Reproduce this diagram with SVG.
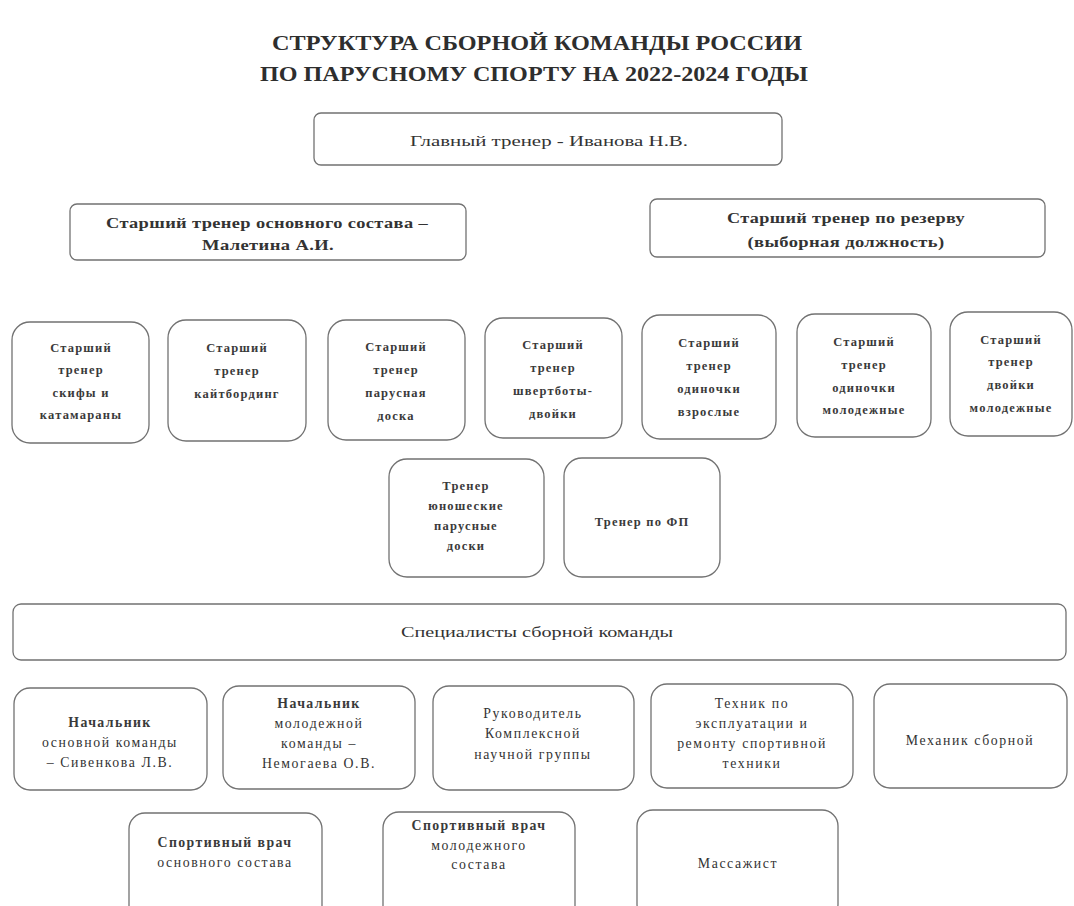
<svg xmlns="http://www.w3.org/2000/svg" width="1074" height="906" viewBox="0 0 1074 906">
<style>
.bg{fill:#ffffff}
.box{fill:#ffffff;stroke:#727272;stroke-width:1.3}
.title{font-family:"Liberation Serif",serif;font-weight:bold;font-size:21px;fill:#2e2e2e;text-anchor:middle}
.t{font-family:"Liberation Serif",serif;font-size:15px;fill:#333;text-anchor:middle}
.tb{font-family:"Liberation Serif",serif;font-size:15px;font-weight:bold;fill:#333;text-anchor:middle;letter-spacing:0.3px}
.s{font-family:"Liberation Serif",serif;font-size:12.5px;font-weight:bold;fill:#3a3a3a;text-anchor:middle;letter-spacing:1.2px}
.r{font-family:"Liberation Serif",serif;font-size:13.8px;fill:#333;text-anchor:middle;letter-spacing:1.6px}
.rb{font-family:"Liberation Serif",serif;font-size:13.8px;font-weight:bold;fill:#3a3a3a;text-anchor:middle;letter-spacing:1.4px}
</style>
<rect class="bg" x="0" y="0" width="1074" height="906"/>
<g id="title">
<text class="title" x="537" y="50" textLength="530" lengthAdjust="spacingAndGlyphs">СТРУКТУРА СБОРНОЙ КОМАНДЫ РОССИИ</text>
<text class="title" x="534" y="81" textLength="548" lengthAdjust="spacingAndGlyphs">ПО ПАРУСНОМУ СПОРТУ НА 2022-2024 ГОДЫ</text>
</g>
<g id="connectors"></g>
<g id="head">
<rect class="box" x="314" y="113" width="468" height="52" rx="7"/>
<text class="t" x="549" y="146" textLength="278" lengthAdjust="spacingAndGlyphs">Главный тренер - Иванова Н.В.</text>
</g>
<g id="senior-main">
<rect class="box" x="70" y="204" width="396" height="56" rx="7"/>
<text class="tb" x="267" y="228" textLength="322" lengthAdjust="spacingAndGlyphs">Старший тренер основного состава –</text>
<text class="tb" x="268" y="250" textLength="132" lengthAdjust="spacingAndGlyphs">Малетина А.И.</text>
</g>
<g id="senior-reserve">
<rect class="box" x="650" y="199" width="395" height="58" rx="7"/>
<text class="tb" x="846" y="223" textLength="238" lengthAdjust="spacingAndGlyphs">Старший тренер по резерву</text>
<text class="tb" x="846" y="247" textLength="197" lengthAdjust="spacingAndGlyphs">(выборная должность)</text>
</g>
<g id="c1">
<rect class="box" x="12" y="322" width="137" height="121" rx="18"/>
<text class="s" x="81" y="352">Старший</text>
<text class="s" x="81" y="374">тренер</text>
<text class="s" x="81" y="397">скифы и</text>
<text class="s" x="81" y="419">катамараны</text>
</g>
<g id="c2">
<rect class="box" x="168" y="320" width="138" height="121" rx="18"/>
<text class="s" x="237" y="352">Старший</text>
<text class="s" x="237" y="375">тренер</text>
<text class="s" x="237" y="398">кайтбординг</text>
</g>
<g id="c3">
<rect class="box" x="328" y="320" width="137" height="120" rx="18"/>
<text class="s" x="396" y="351">Старший</text>
<text class="s" x="396" y="374">тренер</text>
<text class="s" x="396" y="397">парусная</text>
<text class="s" x="396" y="420">доска</text>
</g>
<g id="c4">
<rect class="box" x="485" y="318" width="137" height="120" rx="18"/>
<text class="s" x="553" y="349">Старший</text>
<text class="s" x="553" y="372">тренер</text>
<text class="s" x="553" y="395">швертботы-</text>
<text class="s" x="553" y="418">двойки</text>
</g>
<g id="c5">
<rect class="box" x="642" y="315" width="134" height="124" rx="18"/>
<text class="s" x="709" y="347">Старший</text>
<text class="s" x="709" y="370">тренер</text>
<text class="s" x="709" y="393">одиночки</text>
<text class="s" x="709" y="416">взрослые</text>
</g>
<g id="c6">
<rect class="box" x="797" y="314" width="134" height="123" rx="18"/>
<text class="s" x="864" y="346">Старший</text>
<text class="s" x="864" y="369">тренер</text>
<text class="s" x="864" y="392">одиночки</text>
<text class="s" x="864" y="414">молодежные</text>
</g>
<g id="c7">
<rect class="box" x="950" y="312" width="122" height="124" rx="18"/>
<text class="s" x="1011" y="344">Старший</text>
<text class="s" x="1011" y="366">тренер</text>
<text class="s" x="1011" y="389">двойки</text>
<text class="s" x="1011" y="412">молодежные</text>
</g>
<g id="c8">
<rect class="box" x="389" y="459" width="155" height="118" rx="18"/>
<text class="s" x="466" y="490">Тренер</text>
<text class="s" x="466" y="510">юношеские</text>
<text class="s" x="466" y="530">парусные</text>
<text class="s" x="466" y="550">доски</text>
</g>
<g id="c9">
<rect class="box" x="564" y="458" width="156" height="119" rx="18"/>
<text class="s" x="642" y="526">Тренер  по  ФП</text>
</g>
<g id="specialists">
<rect class="box" x="13" y="604" width="1053" height="56" rx="8"/>
<text class="t" x="537" y="637" textLength="272" lengthAdjust="spacingAndGlyphs">Специалисты сборной команды</text>
</g>
<g id="s1">
<rect class="box" x="14" y="688" width="193" height="102" rx="16"/>
<text class="rb" x="110" y="727">Начальник</text>
<text class="r" x="110" y="747">основной  команды</text>
<text class="r" x="110" y="767">– Сивенкова  Л.В.</text>
</g>
<g id="s2">
<rect class="box" x="223" y="686" width="192" height="103" rx="16"/>
<text class="rb" x="319" y="708">Начальник</text>
<text class="r" x="319" y="728">молодежной</text>
<text class="r" x="319" y="748">команды –</text>
<text class="r" x="319" y="768">Немогаева  О.В.</text>
</g>
<g id="s3">
<rect class="box" x="433" y="686" width="201" height="104" rx="16"/>
<text class="r" x="533" y="718">Руководитель</text>
<text class="r" x="533" y="738">Комплексной</text>
<text class="r" x="533" y="759">научной  группы</text>
</g>
<g id="s4">
<rect class="box" x="651" y="684" width="202" height="104" rx="16"/>
<text class="r" x="752" y="708">Техник  по</text>
<text class="r" x="752" y="728">эксплуатации  и</text>
<text class="r" x="752" y="748">ремонту  спортивной</text>
<text class="r" x="752" y="768">техники</text>
</g>
<g id="s5">
<rect class="box" x="874" y="684" width="193" height="104" rx="16"/>
<text class="r" x="970" y="745">Механик  сборной</text>
</g>
<g id="s6">
<rect class="box" x="129" y="813" width="193" height="110" rx="16"/>
<text class="rb" x="225" y="847">Спортивный  врач</text>
<text class="r" x="225" y="867">основного  состава</text>
</g>
<g id="s7">
<rect class="box" x="383" y="812" width="192" height="110" rx="16"/>
<text class="rb" x="479" y="830">Спортивный  врач</text>
<text class="r" x="479" y="850">молодежного</text>
<text class="r" x="479" y="869">состава</text>
</g>
<g id="s8">
<rect class="box" x="637" y="810" width="201" height="110" rx="16"/>
<text class="r" x="738" y="868">Массажист</text>
</g>
</svg>
